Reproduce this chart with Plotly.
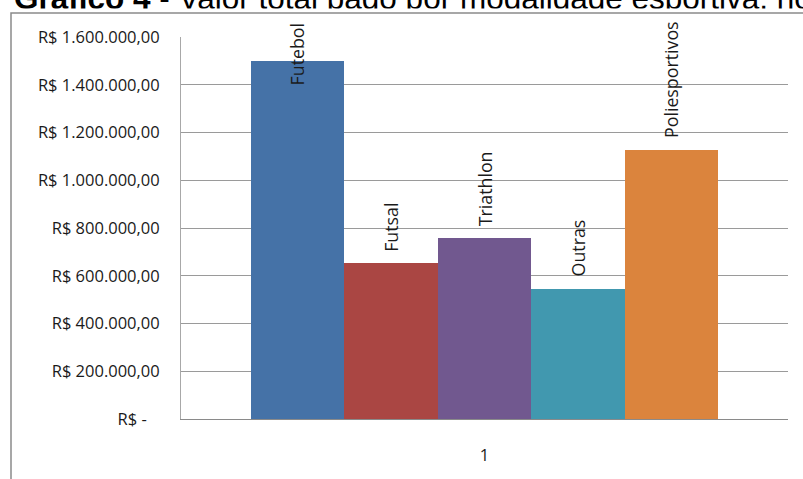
import plotly.graph_objects as go

# ---- data ----
categories = ["Futebol", "Futsal", "Triathlon", "Outras", "Poliesportivos"]
values = [1500000, 652000, 757000, 545000, 1127000]
bar_colors = ["#4572A7", "#AA4643", "#71588F", "#4198AF", "#DB843D"]
y_tickvals = [0, 200000, 400000, 600000, 800000, 1000000, 1200000, 1400000, 1600000]
y_ticktext = ["R$ -\u00a0\u00a0\u00a0", "R$ 200.000,00", "R$ 400.000,00", "R$ 600.000,00",
              "R$ 800.000,00", "R$ 1.000.000,00", "R$ 1.200.000,00", "R$ 1.400.000,00",
              "R$ 1.600.000,00"]
x_ticktext = ["1"]
title_text = "<b>Gráfico 4</b> - Valor total pago por modalidade esportiva, no"

# ---- layout geometry (pixels) ----
W, H = 803, 479
L, R, T, B = 181, 788, 37, 419
x_range = [-1.245, 5.245]
y_range = [0, 1600000]


def fx(p):  # page pixel -> paper x
    return p / W


def fy(p):  # page pixel -> paper y
    return 1 - p / H


fig = go.Figure()
xs = list(range(len(categories)))
fig.add_trace(go.Bar(
    x=xs, y=values, width=1.0,
    marker=dict(color=bar_colors, line=dict(width=0)),
    hoverinfo="skip", showlegend=False, xaxis="x", yaxis="y",
))

# title as text on a full-page pixel overlay axis (bottom part hidden by a white strip)
title_size = 31.5
baseline = 8.5
fig.add_trace(go.Scatter(
    x=[14], y=[baseline - 0.25 * title_size],
    mode="text", text=[title_text], textposition="middle right",
    textfont=dict(family="Liberation Sans, Arial", size=title_size, color="#000000"),
    cliponaxis=False, hoverinfo="skip", showlegend=False, xaxis="x2", yaxis="y2",
))

annotations = []
label_font = dict(family="Open Sans", size=17.8, color="#1a1a1a")
for i, (c, v) in enumerate(zip(categories, values)):
    if v > 0.9 * y_range[1]:
        annotations.append(dict(x=i, y=fy(21), xref="x", yref="paper", text=c, showarrow=False,
                                textangle=-90, yanchor="top", xanchor="center", font=label_font))
    else:
        annotations.append(dict(x=i, y=v, xref="x", yref="y", text=c, showarrow=False,
                                textangle=-90, yanchor="bottom", xanchor="center",
                                yshift=10, font=label_font))

shapes = [
    # white strip hiding the lower part of the title
    dict(type="rect", xref="paper", yref="paper", layer="above",
         x0=fx(-10), x1=fx(W + 10), y0=fy(19), y1=fy(baseline),
         fillcolor="#ffffff", line=dict(width=0)),
    # chart frame
    dict(type="rect", xref="paper", yref="paper", layer="above",
         x0=fx(11), x1=fx(W + 30), y0=fy(H + 30), y1=fy(13),
         fillcolor="rgba(0,0,0,0)", line=dict(color="#8a8a8a", width=1.5)),
]

tick_font = dict(family="Open Sans", size=16.5, color="#1a1a1a")
fig.update_layout(
    width=W, height=H,
    margin=dict(l=0, r=0, t=0, b=0, pad=0, autoexpand=False),
    paper_bgcolor="#ffffff", plot_bgcolor="rgba(0,0,0,0)",
    bargap=0, annotations=annotations, shapes=shapes,
    xaxis=dict(domain=[fx(L), fx(R)], anchor="y", range=x_range, tickmode="array",
               tickvals=[2], ticktext=x_ticktext,
               showgrid=False, zeroline=False, showline=True, linecolor="#8a8a8a",
               linewidth=1, ticks="", ticklabelstandoff=21, tickfont=tick_font,
               automargin=False),
    yaxis=dict(domain=[fy(B), fy(T)], anchor="x", range=y_range, tickmode="array",
               tickvals=y_tickvals, ticktext=y_ticktext,
               showgrid=True, gridcolor="#9a9a9a", gridwidth=1, zeroline=False,
               showline=True, linecolor="#a8a8a8", linewidth=1, ticks="",
               ticklabelstandoff=17, tickfont=tick_font, automargin=False),
    xaxis2=dict(domain=[0, 1], anchor="y2", range=[0, W], visible=False, fixedrange=True),
    yaxis2=dict(domain=[0, 1], anchor="x2", range=[H, 0], visible=False, fixedrange=True),
)

fig.write_html("out.html", config={"displayModeBar": False})
